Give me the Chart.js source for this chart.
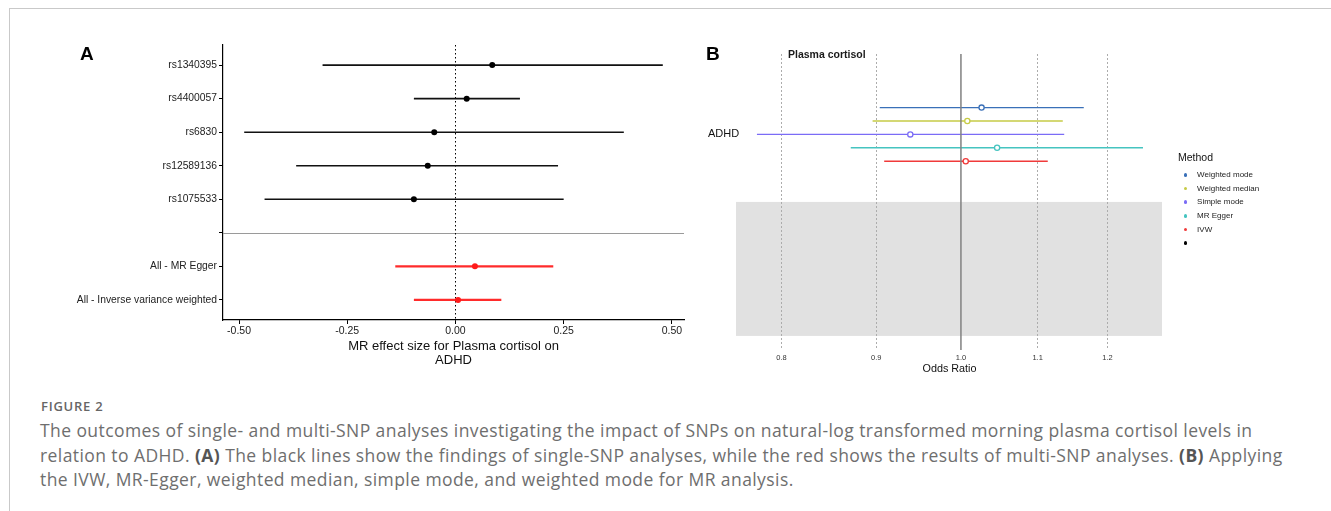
<!DOCTYPE html>
<html>
<head>
<meta charset="utf-8">
<script src="https://cdn.jsdelivr.net/npm/chart.js@4.4.1/dist/chart.umd.min.js"></script>
<style>
  html, body { margin:0; padding:0; background:#fff; }
  body { width:1331px; height:511px; position:relative; overflow:hidden; font-family:"Liberation Sans", Arial, sans-serif; }
  #frame { position:absolute; left:9px; top:8px; width:1322px; height:503px; border-top:1px solid #c9c9c9; border-left:1px solid #c9c9c9; box-sizing:border-box; }
  canvas { position:absolute; }
  #cA { left:0; top:0; }
  #cB { left:700px; top:0; }
  .plab { position:absolute; font-weight:bold; font-size:19px; color:#000; line-height:20px; }
  #expo { position:absolute; left:788px; top:47px; font-size:10.5px; font-weight:bold; color:#1a1a1a; line-height:14px; }
  #legend { position:absolute; left:1178px; top:150px; font-size:8px; color:#222; }
  #legend .title { font-size:10.5px; line-height:14px; margin-bottom:4px; color:#111; }
  #legend .row { height:13.7px; line-height:13.7px; display:flex; align-items:center; white-space:nowrap; }
  #legend .dot { width:3.6px; height:3.6px; border-radius:50%; margin-left:5.5px; margin-right:10px; flex:none; }
  #fig { position:absolute; left:41px; top:398px; font-family:"Open Sans", sans-serif; font-weight:600; font-size:13px; color:#666; letter-spacing:0.75px; line-height:16px; }
  #cap { position:absolute; left:40px; top:418px; font-family:"Open Sans", sans-serif; font-size:17.5px; letter-spacing:0.42px; color:#6e6e6e; line-height:24.5px; white-space:nowrap; }
  #cap b { color:#555; }
</style>
</head>
<body>
<div id="frame"></div>
<canvas id="cA" width="700" height="380"></canvas>
<canvas id="cB" width="480" height="380"></canvas>
<div class="plab" style="left:80px; top:44px;">A</div>
<div class="plab" style="left:706px; top:44px;">B</div>
<div id="expo"></div>
<div id="legend"></div>
<div id="fig">FIGURE 2</div>
<div id="cap">The outcomes of single- and multi-SNP analyses investigating the impact of SNPs on natural-log transformed morning plasma cortisol levels in<br>relation to ADHD. <b>(A)</b> The black lines show the findings of single-SNP analyses, while the red shows the results of multi-SNP analyses. <b>(B)</b> Applying<br>the IVW, MR-Egger, weighted median, simple mode, and weighted mode for MR analysis.</div>
<script>
// ---------- Panel A data ----------
const snpLabels = ['rs1340395','rs4400057','rs6830','rs12589136','rs1075533','','All - MR Egger','All - Inverse variance weighted'];
const snpBeta   = [0.085, 0.026, -0.049, -0.064, -0.096, null, 0.045, 0.006];
const snpLow    = [-0.307, -0.096, -0.488, -0.368, -0.441, null, -0.139, -0.096];
const snpHigh   = [0.479, 0.149, 0.389, 0.237, 0.250, null, 0.226, 0.106];
const xTicksA   = [-0.50, -0.25, 0.00, 0.25, 0.50];
const xTitleA   = ['MR effect size for Plasma cortisol on', 'ADHD'];

// ---------- Panel B data ----------
const exposureName = 'Plasma cortisol';
const outcomeName  = 'ADHD';
const methods = ['Weighted mode','Weighted median','Simple mode','MR Egger','IVW'];
const orEst   = [1.026, 1.008, 0.939, 1.046, 1.006];
const orLow   = [0.904, 0.896, 0.776, 0.872, 0.909];
const orHigh  = [1.165, 1.135, 1.137, 1.254, 1.114];
const orTicks = [0.8, 0.9, 1.0, 1.1, 1.2];
const xTitleB = 'Odds Ratio';

const methodColors = ['#3a70b8','#c6cb46','#7b6cf6','#45c4c0','#f03a3a'];

Chart.defaults.font.family = '"Liberation Sans", Arial, sans-serif';
Chart.defaults.animation = false;

// ---------- Panel A ----------
const dsA = [];
const pts = [], ptCols = [];
snpLabels.forEach((lab, i) => {
  if (snpBeta[i] === null) return;
  const multi = lab.startsWith('All');
  const col = multi ? '#ff2b2b' : '#111';
  dsA.push({
    data: [{x: snpLow[i], y: i + 1}, {x: snpHigh[i], y: i + 1}],
    showLine: true, borderColor: col, borderWidth: multi ? 2.4 : 1.6,
    pointRadius: 0, order: 2
  });
  pts.push({x: snpBeta[i], y: i + 1});
  ptCols.push(multi ? '#ff1a1a' : '#000');
});
dsA.push({ data: pts, pointRadius: 3, pointBackgroundColor: ptCols, pointBorderColor: ptCols, pointBorderWidth: 0, order: 0 });

const blankRow = snpLabels.indexOf('') + 1;

const refLinesA = {
  id: 'refLinesA',
  beforeDatasetsDraw(chart) {
    const {ctx, chartArea: a, scales: {x, y}} = chart;
    ctx.save();
    const ys = Math.round(y.getPixelForValue(blankRow)) + 0.5;
    ctx.strokeStyle = '#9a9a9a'; ctx.lineWidth = 1;
    ctx.beginPath(); ctx.moveTo(a.left, ys); ctx.lineTo(a.right, ys); ctx.stroke();
    const x0 = Math.round(x.getPixelForValue(0)) + 0.5;
    ctx.strokeStyle = '#000'; ctx.setLineDash([1.5, 2.5]);
    ctx.beginPath(); ctx.moveTo(x0, a.top); ctx.lineTo(x0, a.bottom); ctx.stroke();
    ctx.restore();
  }
};

new Chart(document.getElementById('cA'), {
  type: 'scatter',
  data: { datasets: dsA },
  options: {
    responsive: false, animation: false,
    layout: { padding: { left: 0, top: 45, right: 16, bottom: 0 } },
    plugins: { legend: { display: false }, tooltip: { enabled: false } },
    scales: {
      x: {
        type: 'linear', min: -0.537, max: 0.528,
        afterBuildTicks: s => { s.ticks = xTicksA.map(v => ({value: v})); },
        afterFit: s => { s.height = 60; },
        ticks: { callback: v => Number(v).toFixed(2), font: { size: 10.5 }, color: '#222', padding: 1, maxRotation: 0, autoSkip: false },
        grid: { display: true, drawOnChartArea: false, drawTicks: true, tickLength: 4, color: '#000' },
        border: { display: true, color: '#000', width: 1.2 },
        title: { display: true, text: xTitleA, font: { size: 13, lineHeight: '14px' }, color: '#111', padding: { top: 0, bottom: 13 } }
      },
      y: {
        type: 'linear', reverse: true, min: 0.4, max: snpLabels.length + 0.6,
        afterBuildTicks: s => { s.ticks = snpLabels.map((l, i) => ({value: i + 1})); },
        afterFit: s => { s.width = 223; },
        ticks: { callback: v => snpLabels[v - 1], font: { size: 10.3 }, color: '#222', padding: 2, autoSkip: false },
        grid: { display: true, drawOnChartArea: false, drawTicks: true, tickLength: 4, color: '#000' },
        border: { display: true, color: '#000', width: 1.2 }
      }
    }
  },
  plugins: [refLinesA]
});

// ---------- Panel B ----------
const dsB = methods.map((m, i) => ({
  label: m,
  data: [{x: orLow[i], y: i + 1}, {x: orEst[i], y: i + 1}, {x: orHigh[i], y: i + 1}],
  showLine: true, borderColor: methodColors[i], borderWidth: 1.4,
  pointRadius: [0, 2.6, 0], pointBackgroundColor: '#fff', pointBorderColor: methodColors[i], pointBorderWidth: 1.3
}));
const groupCenter = (methods.length + 1) / 2;

const decoB = {
  id: 'decoB',
  beforeDraw(chart) {
    const {ctx, chartArea: a, scales: {y}} = chart;
    ctx.save();
    ctx.fillStyle = '#e1e1e1';
    const t = y.getPixelForValue(8.04), b = y.getPixelForValue(18.04);
    ctx.fillRect(a.left - 1, t, a.right - a.left + 1, b - t);
    ctx.restore();
  },
  afterDatasetsDraw(chart) {
    const {ctx, chartArea: a, scales: {x}} = chart;
    ctx.save();
    const x1 = x.getPixelForValue(1);
    ctx.strokeStyle = 'rgba(130,130,130,0.85)'; ctx.lineWidth = 1.8;
    ctx.beginPath(); ctx.moveTo(x1, a.top); ctx.lineTo(x1, a.bottom); ctx.stroke();
    ctx.restore();
  }
};

new Chart(document.getElementById('cB'), {
  type: 'scatter',
  data: { datasets: dsB },
  options: {
    responsive: false, animation: false,
    layout: { padding: { left: 0, top: 54, right: 18, bottom: 0 } },
    plugins: { legend: { display: false }, tooltip: { enabled: false } },
    scales: {
      x: {
        type: 'logarithmic', min: 0.757, max: 1.284,
        afterBuildTicks: s => { s.ticks = orTicks.map(v => ({value: v})); },
        afterFit: s => { s.height = 30; },
        ticks: { callback: v => Number(v).toFixed(1), font: { size: 7.5 }, color: '#333', padding: 3.5, maxRotation: 0, autoSkip: false },
        grid: { display: true, drawOnChartArea: true, drawTicks: false, lineWidth: 1,
                color: c => (c.tick && c.tick.value === 1) ? 'rgba(0,0,0,0)' : '#acacac' },
        border: { display: false, dash: [2, 2] },
        title: { display: true, text: xTitleB, font: { size: 10.8, lineHeight: '12px' }, color: '#111', padding: { top: 0, bottom: 5 } }
      },
      y: {
        type: 'linear', reverse: true, min: -3.0, max: 19.09,
        afterBuildTicks: s => { s.ticks = [{value: groupCenter}]; },
        afterFit: s => { s.width = 37; },
        ticks: { callback: () => outcomeName, font: { size: 11 }, color: '#111', mirror: true, crossAlign: 'near', padding: -29, autoSkip: false },
        grid: { display: false, drawTicks: false, tickLength: 0 },
        border: { display: false }
      }
    }
  },
  plugins: [decoB]
});

// ---------- HTML labels / legend ----------
document.getElementById('expo').textContent = exposureName;
const lg = document.getElementById('legend');
const t = document.createElement('div'); t.className = 'title'; t.textContent = 'Method'; lg.appendChild(t);
methods.concat(['']).forEach((m, i) => {
  const r = document.createElement('div'); r.className = 'row';
  const d = document.createElement('span'); d.className = 'dot';
  d.style.background = i < methods.length ? methodColors[i] : '#000';
  const s = document.createElement('span'); s.textContent = m;
  r.appendChild(d); r.appendChild(s); lg.appendChild(r);
});
</script>
</body>
</html>
